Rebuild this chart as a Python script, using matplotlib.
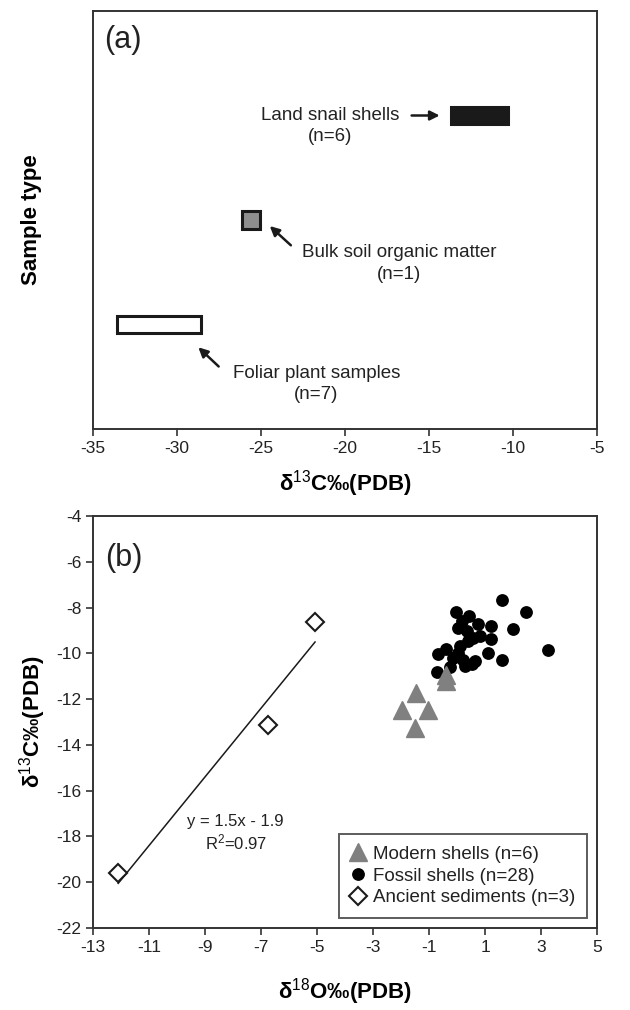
import matplotlib.pyplot as plt
import numpy as np

plt.rcParams['font.family'] = ['Liberation Sans', 'DejaVu Sans']
plt.rcParams['mathtext.fontset'] = 'custom'
plt.rcParams['mathtext.rm'] = 'Liberation Sans'
plt.rcParams['mathtext.it'] = 'Liberation Sans'
plt.rcParams['mathtext.bf'] = 'Liberation Sans:bold'
plt.rcParams['axes.unicode_minus'] = False

# panel (a): d13C ranges per sample type
sample_types = ['Foliar plant samples', 'Bulk soil organic matter', 'Land snail shells']
sample_n = [7, 1, 6]
d13c_min = [-33.6, -26.15, -13.7]
d13c_max = [-28.55, -25.05, -10.3]
sample_pos = [0.25, 0.5, 0.75]
sample_fill = ['white', '#8f8f8f', '#1a1a1a']

# panel (b): d18O vs d13C
modern_o = [-1.96, -1.48, -1.04, -1.49, -0.38, -0.40]
modern_c = [-12.47, -11.74, -12.47, -13.27, -10.94, -11.23]

fossil_o = [1.60, 2.46, -0.04, 0.44, 0.74, 1.20, 1.99, 0.02, 0.35, 0.82,
            1.20, 0.40, 0.11, -0.39, -0.67, 1.12, 1.60, 3.24, 0.05, 0.23,
            0.52, 0.29, -0.25, -0.73, 0.17, 0.58, -0.13, 0.64]
fossil_c = [-7.65, -8.21, -8.21, -8.38, -8.71, -8.82, -8.92, -8.90, -9.04, -9.26,
            -9.38, -9.48, -9.70, -9.81, -10.03, -9.98, -10.30, -9.86, -9.98, -10.27,
            -10.46, -10.56, -10.61, -10.81, -8.57, -9.34, -10.20, -10.35]

sed_o = [-12.1, -6.75, -5.07]
sed_c = [-19.6, -13.13, -8.64]
fit_slope = 1.5
fit_intercept = -1.9

W, H = 630, 1010
fig = plt.figure(figsize=(W / 100, H / 100), dpi=100)

def px_axes(left, top, right, bottom):
    return fig.add_axes([left / W, 1 - bottom / H, (right - left) / W, (bottom - top) / H])

def style_axes(ax):
    for s in ax.spines.values():
        s.set_color('#333333')
        s.set_linewidth(1.4)
    ax.tick_params(direction='out', length=5, width=1.2, color='#333333',
                   labelsize=12.5, labelcolor='#222222')

# ---------------- panel (a) ----------------
ax1 = px_axes(93, 11, 597, 429)
style_axes(ax1)
for lo, hi, y, fc in zip(d13c_min, d13c_max, sample_pos, sample_fill):
    ax1.add_patch(plt.Rectangle((lo, y - 0.021), hi - lo, 0.042, facecolor=fc,
                                edgecolor='#1a1a1a', linewidth=2.2))
ax1.set_xlim(-35, -5)
ax1.set_ylim(0, 1)
ax1.set_xticks(np.arange(-35, -4, 5))
ax1.set_yticks([])
ax1.set_xlabel('δ$^{13}$C‰(PDB)', fontsize=16, fontweight='bold', labelpad=9)
ax1.set_ylabel('Sample type', fontsize=16, fontweight='bold', labelpad=37)
ax1.text(-33.2, 0.93, '(a)', fontsize=22, ha='center', va='center', color='#222222')

arrow = dict(arrowstyle='-|>', color='#1a1a1a', lw=1.8, mutation_scale=14)
# land snail shells
ax1.text(-20.9, 0.725, f'{sample_types[2]}\n(n={sample_n[2]})', fontsize=13.5,
         ha='center', va='center', color='#222222', linespacing=1.35)
ax1.annotate('', xy=(-14.2, 0.75), xytext=(-16.2, 0.75), arrowprops=arrow)
# bulk soil
ax1.text(-16.8, 0.396, f'{sample_types[1]}\n(n={sample_n[1]})', fontsize=13.5,
         ha='center', va='center', color='#222222', linespacing=1.35)
ax1.annotate('', xy=(-24.6, 0.49), xytext=(-23.1, 0.435), arrowprops=arrow)
# foliar
ax1.text(-21.7, 0.108, f'{sample_types[0]}\n(n={sample_n[0]})', fontsize=13.5,
         ha='center', va='center', color='#222222', linespacing=1.35)
ax1.annotate('', xy=(-28.85, 0.2), xytext=(-27.4, 0.145), arrowprops=arrow)

# ---------------- panel (b) ----------------
ax2 = px_axes(93, 516, 597, 928)
style_axes(ax2)
x_fit = np.array([min(sed_o), max(sed_o)])
ax2.plot(x_fit, fit_slope * x_fit + fit_intercept, color='#1a1a1a', lw=1.1, zorder=1)

ax2.plot(modern_o, modern_c, linestyle='none', marker='^', markersize=13,
         color='#808080', label='Modern shells (n=6)', zorder=3)
ax2.plot(fossil_o, fossil_c, linestyle='none', marker='o', markersize=8.2,
         color='black', label='Fossil shells (n=28)', zorder=2)
ax2.plot(sed_o, sed_c, linestyle='none', marker='D', markersize=9.5,
         markerfacecolor='white', markeredgecolor='#1a1a1a', markeredgewidth=1.5,
         label='Ancient sediments (n=3)', zorder=3)

ax2.text(-7.9, -17.35, 'y = 1.5x - 1.9', fontsize=12, ha='center', va='center', color='#222222')
ax2.text(-7.9, -18.25, 'R$^2$=0.97', fontsize=12, ha='center', va='center', color='#222222')
ax2.text(-11.9, -5.85, '(b)', fontsize=22, ha='center', va='center', color='#222222')

ax2.set_xlim(-13, 5)
ax2.set_ylim(-22, -4)
ax2.set_xticks(np.arange(-13, 6, 2))
ax2.set_yticks(np.arange(-22, -3, 2))
ax2.set_xlabel('δ$^{18}$O‰(PDB)', fontsize=16, fontweight='bold', labelpad=15)
ax2.set_ylabel('δ$^{13}$C‰(PDB)', fontsize=16, fontweight='bold', labelpad=6)

leg = ax2.legend(loc='lower right', fontsize=13.5, frameon=True, fancybox=False,
                 numpoints=1, handlelength=0.9, handletextpad=0.35, borderpad=0.6,
                 labelspacing=0.25, borderaxespad=0.55)
leg.get_frame().set_edgecolor('#333333')
leg.get_frame().set_linewidth(1.4)
for t in leg.get_texts():
    t.set_color('#222222')

fig.savefig('out.png', dpi=100)
